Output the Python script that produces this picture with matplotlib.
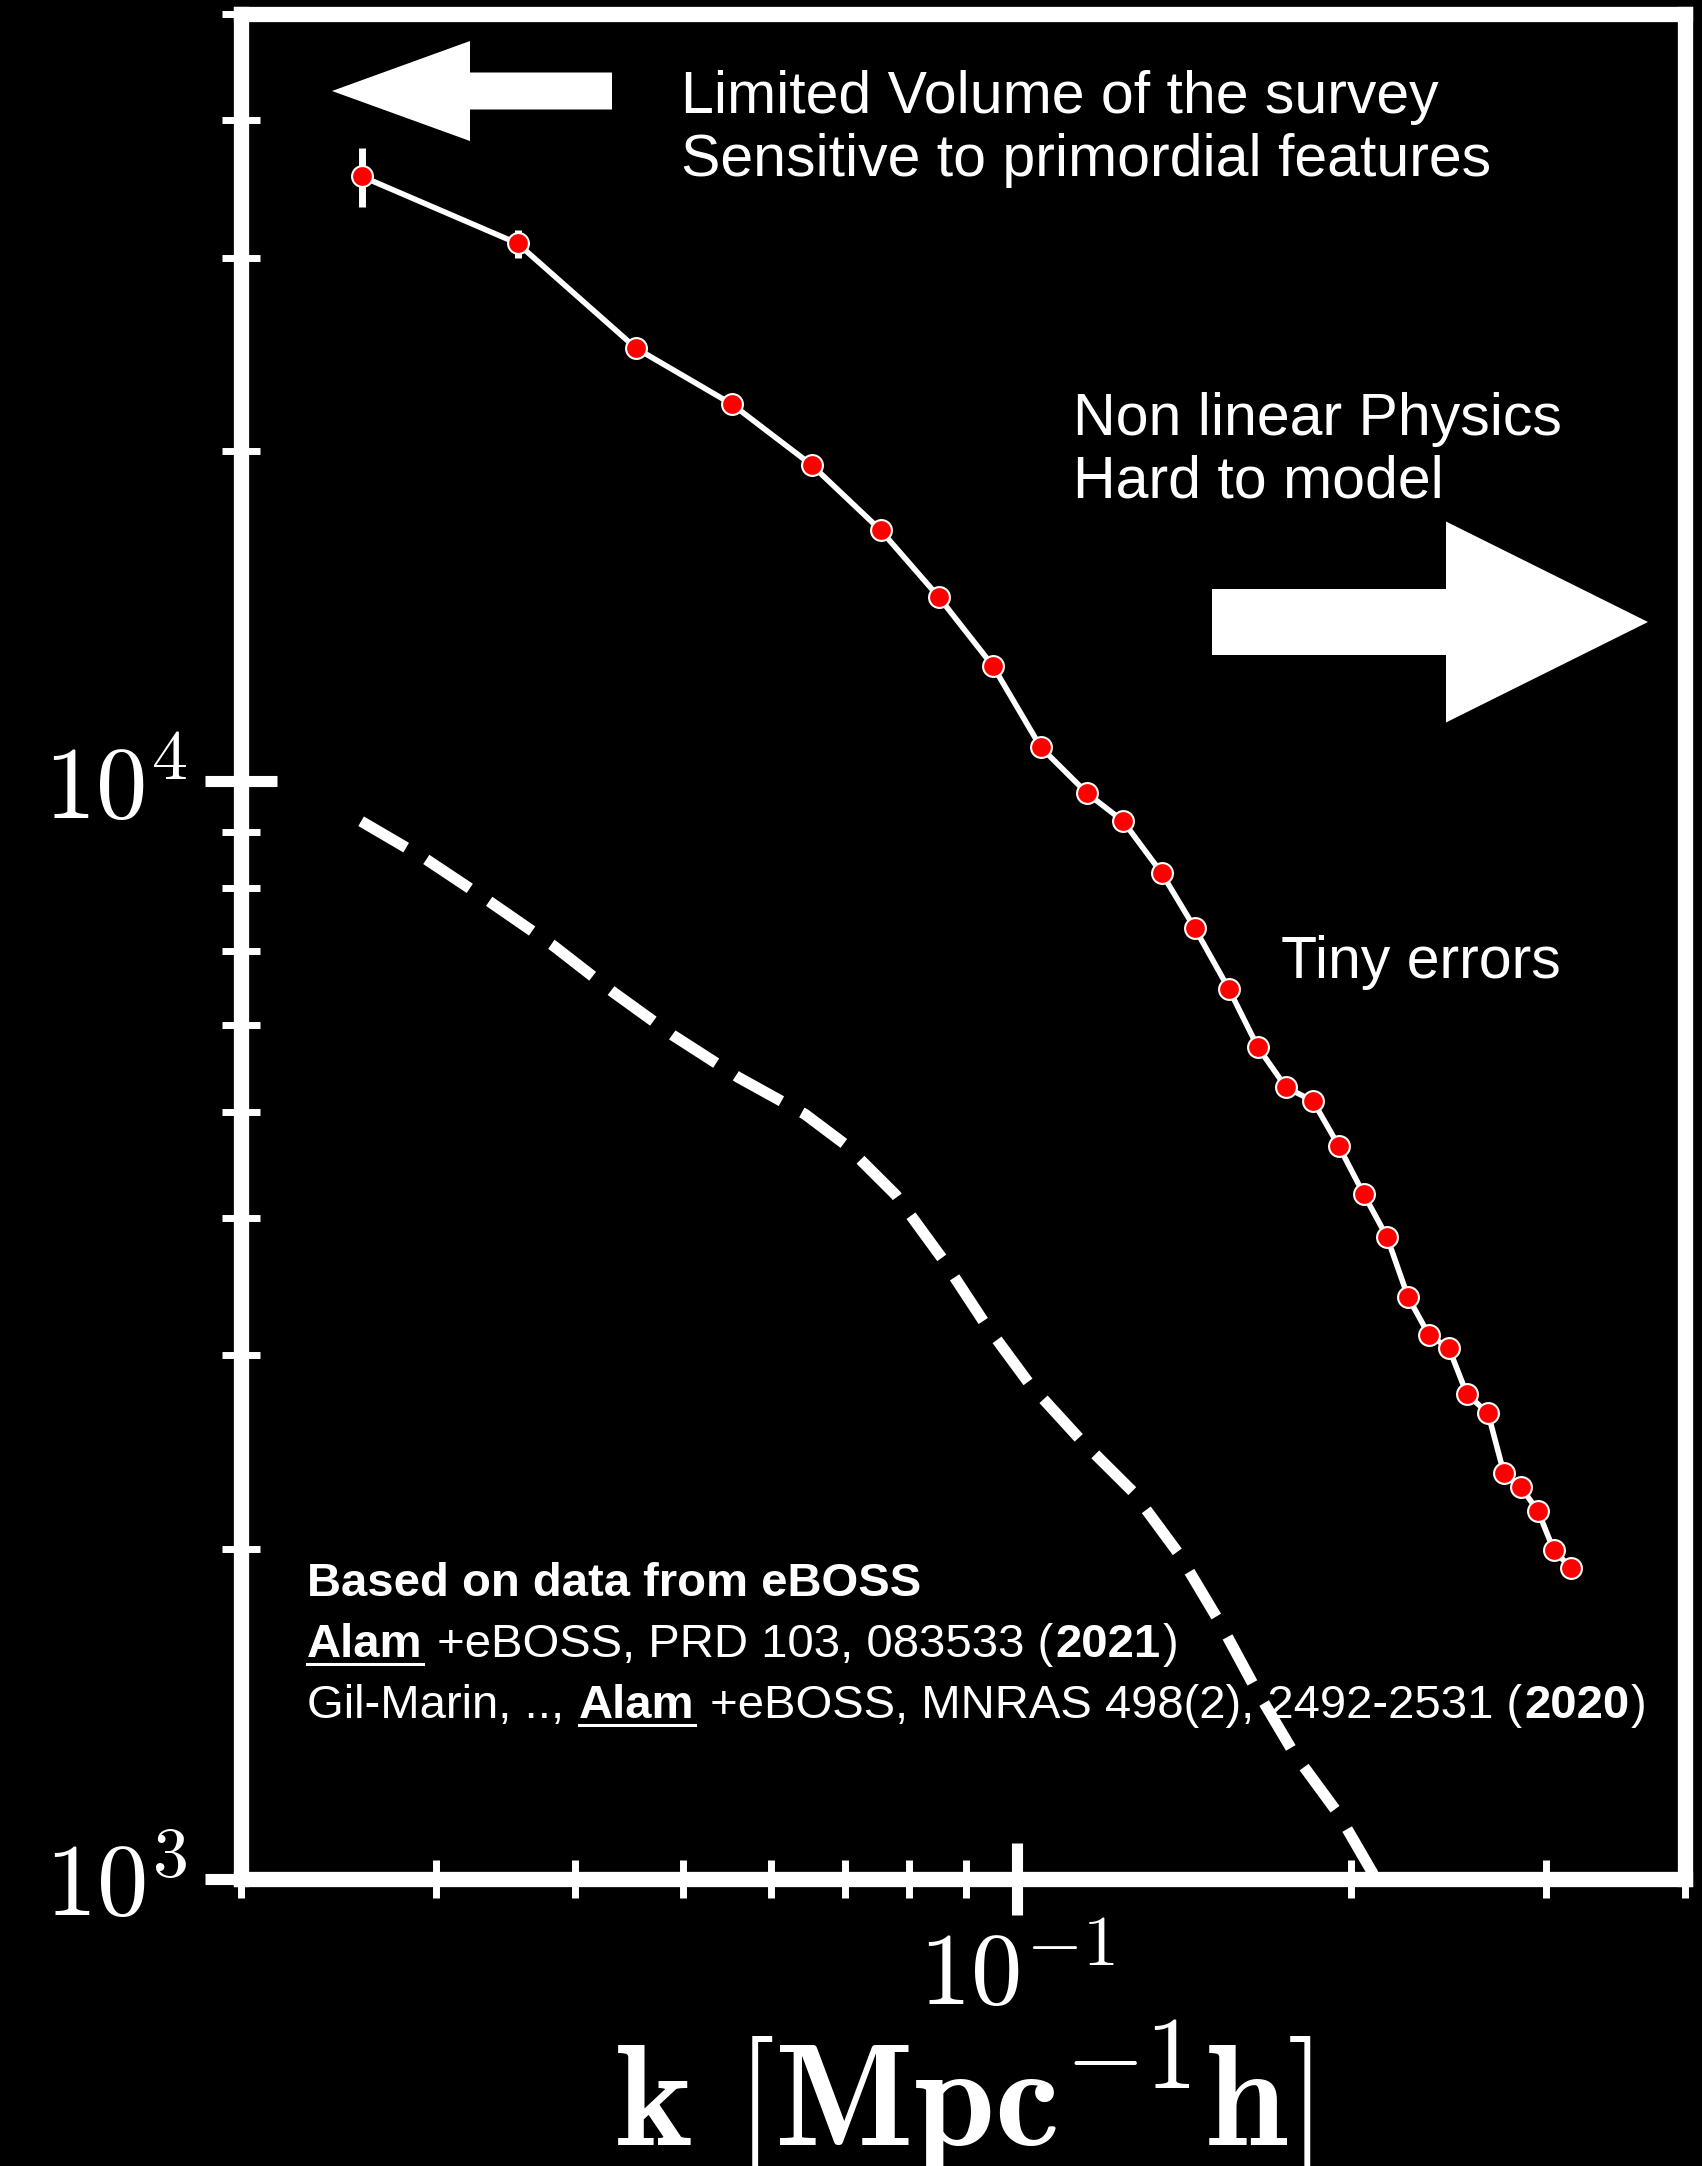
import numpy as np
import matplotlib
matplotlib.use('Agg')
import matplotlib.pyplot as plt
from matplotlib import ticker
from matplotlib.patches import Polygon
from matplotlib.lines import Line2D

plt.rcParams['mathtext.fontset'] = 'cm'
plt.rcParams['font.family'] = ['Liberation Sans', 'DejaVu Sans']

# eBOSS measured power spectrum (red points)
k_data = [0.0257, 0.0355, 0.0454, 0.0554, 0.0654, 0.0754, 0.0851, 0.0952, 0.1051, 0.1157,
          0.1247, 0.1351, 0.1447, 0.1553, 0.1649, 0.1748, 0.1849, 0.1951, 0.2054, 0.2156,
          0.2252, 0.2352, 0.2451, 0.2544, 0.2658, 0.2747, 0.2846, 0.2949, 0.3047, 0.3158]
pk_data = [35560, 30900, 24800, 22050, 19400, 16930, 14710, 12730, 10740, 9752,
           9196, 8245, 7346, 6466, 5725, 5264, 5112, 4651, 4206, 3843,
           3389, 3129, 3045, 2765, 2657, 2343, 2275, 2163, 1993, 1920]
pk_err = [2200, 900, 450, 380, 300, 250, 200, 150, 120, 100,
          90, 80, 70, 60, 55, 50, 45, 40, 35, 32,
          30, 28, 26, 24, 22, 20, 19, 18, 17, 16]

# dashed reference curve
k_lin = [0.02566, 0.02936, 0.03345, 0.0382, 0.04318, 0.04898, 0.05608, 0.06444, 0.0700,
         0.07782, 0.08562, 0.09342, 0.1027, 0.1140, 0.1273, 0.1400, 0.1521, 0.1636,
         0.1777, 0.1947, 0.2098]
pk_lin = [9196, 8491, 7777, 7088, 6437, 5871, 5376, 4974, 4671,
          4198, 3678, 3216, 2824, 2516, 2252, 1977, 1718, 1499,
          1302, 1148, 1008]

W, H = 1702, 2166


def fpos(x, y):
    # pixel position (from top-left) -> figure fraction
    return x / W, 1 - y / H


fig = plt.figure(figsize=(W / 100, H / 100), dpi=100, facecolor='black')
ax = fig.add_axes([241 / W, 1 - 1879 / H, (1685 - 241) / W, (1879 - 14) / H])
ax.set_facecolor('black')
ax.set_xscale('log')
ax.set_yscale('log')
ax.set_xlim(0.02, 0.4)
ax.set_ylim(1e3, 5e4)

for s in ax.spines.values():
    s.set_color('white')
    s.set_linewidth(11)

fmt = ticker.FuncFormatter(lambda v, pos: r'$10^{%d}$' % round(np.log10(v)))
ax.xaxis.set_major_formatter(fmt)
ax.yaxis.set_major_formatter(fmt)
ax.xaxis.set_minor_formatter(ticker.NullFormatter())
ax.yaxis.set_minor_formatter(ticker.NullFormatter())
ax.tick_params(which='major', direction='inout', length=52, width=8, color='white',
               labelcolor='white', labelsize=74)
ax.tick_params(axis='y', which='major', pad=13)
ax.tick_params(axis='x', which='major', pad=11)
ax.tick_params(which='minor', direction='inout', length=28, width=5, color='white')

ax.set_xlabel(r'$\mathbf{k\ [Mpc^{-1}h]}$', fontsize=105, color='white', labelpad=-6)

ax.plot(k_lin, pk_lin, color='white', lw=8, linestyle=(0, (4.7, 2.1)))
ax.plot(k_data, pk_data, color='white', lw=4, zorder=3)
ax.errorbar(k_data, pk_data, yerr=pk_err, fmt='o', ms=15, mfc='red', mec='white', mew=1.5,
            ecolor='white', elinewidth=5, capsize=0, zorder=4)


def block_arrow(tip_x, tip_y, head_len, head_w, tail_len, tail_w, direction):
    d = direction
    base = tip_x - d * head_len
    end = base - d * tail_len
    pts = [(tip_x, tip_y), (base, tip_y - head_w / 2), (base, tip_y - tail_w / 2),
           (end, tip_y - tail_w / 2), (end, tip_y + tail_w / 2), (base, tip_y + tail_w / 2),
           (base, tip_y + head_w / 2)]
    poly = Polygon([fpos(x, y) for x, y in pts], closed=True, facecolor='white',
                   edgecolor='none', transform=fig.transFigure)
    fig.add_artist(poly)


block_arrow(332, 91, 138, 100, 142, 37, -1)
block_arrow(1648, 622, 202, 201, 234, 66, 1)

txt = dict(color='white', fontsize=42.5, va='baseline', ha='left')
fig.text(*fpos(681, 113), 'Limited Volume of the survey', **txt)
fig.text(*fpos(681, 176), 'Sensitive to primordial features', **txt)
fig.text(*fpos(1073, 435), 'Non linear Physics', **txt)
fig.text(*fpos(1073, 498), 'Hard to model', **txt)
fig.text(*fpos(1281, 978), 'Tiny errors', **txt)

# reference block, mixed weights
refs = [
    (1596, [('Based on data from eBOSS', 'bold', False)]),
    (1657, [('Alam', 'bold', True), (' +eBOSS, PRD 103, 083533 (', 'normal', False),
            ('2021', 'bold', False), (')', 'normal', False)]),
    (1718, [('Gil-Marin, .., ', 'normal', False), ('Alam', 'bold', True),
            (' +eBOSS, MNRAS 498(2), 2492-2531 (', 'normal', False),
            ('2020', 'bold', False), (')', 'normal', False)]),
]
renderer = fig.canvas.get_renderer()
for y, parts in refs:
    x = 307
    for s, weight, under in parts:
        t = fig.text(*fpos(x, y), s, color='white', fontsize=34, fontweight=weight,
                     va='baseline', ha='left')
        w = t.get_window_extent(renderer).width
        if under:
            fig.add_artist(Line2D([x / W, (x + w) / W], [1 - (y + 7) / H] * 2,
                                  color='white', lw=2.2, transform=fig.transFigure))
        x += w + 2

fig.savefig('out.png', dpi=100, facecolor='black')
